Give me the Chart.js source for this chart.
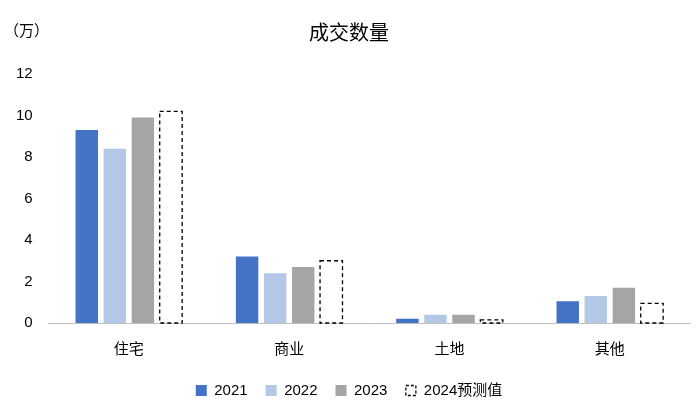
<!DOCTYPE html>
<html><head><meta charset="utf-8">
<script src="https://cdn.jsdelivr.net/npm/chart.js@4"></script>
<style>html,body{margin:0;padding:0;background:#fff}#w{position:relative;width:700px;height:418px}</style>
</head><body><div id="w"><canvas id="c" width="700" height="418"></canvas></div>
<script>
const categories = ["住宅","商业","土地","其他"];
const s2021 = [9.3, 3.2, 0.2, 1.05];
const s2022 = [8.4, 2.4, 0.4, 1.3];
const s2023 = [9.9, 2.7, 0.4, 1.7];
const s2024 = [10.2, 3.0, 0.15, 0.95];
const yTicks = [0,2,4,6,8,10,12];
const F = "'Noto Sans CJK SC', 'Liberation Sans', sans-serif";
const unitPlugin = {id:'unit', afterDraw(ch){
  const c=ch.ctx;c.save();c.font="15px "+F;c.fillStyle="#000";c.textBaseline="middle";c.fillText("（万）",4,30);
  c.strokeStyle="#000";c.lineWidth=1.3;c.setLineDash([4,3]);
  ch.getDatasetMeta(3).data.forEach(b=>{const w=b.width;c.strokeRect(b.x-w/2,b.y,w,b.base-b.y);});
  const li=ch.legend.legendHitBoxes[3];
  if(li){c.fillStyle="#fff";c.fillRect(li.left-1,li.top-1,13,14);c.setLineDash([3,2]);c.strokeRect(li.left+0.5,li.top+2.5,10,10);}
  c.restore();}};
new Chart(document.getElementById('c'), {
  type:'bar',
  data:{labels:categories, datasets:[
    {label:'2021', data:s2021, backgroundColor:'#4472C4'},
    {label:'2022', data:s2022, backgroundColor:'#B4C7E7'},
    {label:'2023', data:s2023, backgroundColor:'#A5A5A5'},
    {label:'2024预测值', data:s2024, backgroundColor:'#fff', borderWidth:0}
  ]},
  options:{responsive:false, animation:false, devicePixelRatio:1,
    categoryPercentage:0.7, barPercentage:0.8,
    layout:{padding:{left:8,right:10,top:0,bottom:10}},
    plugins:{
      title:{display:true,text:'成交数量',font:{family:F,size:20,weight:'normal'},color:'#000',padding:{top:20,bottom:30}},
      legend:{position:'bottom',labels:{font:{family:"'Liberation Sans', 'Noto Sans CJK SC', sans-serif",size:15},color:'#000',boxWidth:11,boxHeight:11,padding:18}},
      tooltip:{enabled:false}
    },
    scales:{
      x:{grid:{display:false},border:{color:'#bfbfbf'},ticks:{font:{family:F,size:15},color:'#000',padding:8}},
      y:{min:0,max:12,afterBuildTicks(a){a.ticks=yTicks.map(v=>({value:v}));},grid:{display:false},border:{display:false},ticks:{font:{family:"'Liberation Sans', sans-serif",size:15},color:'#000',padding:8}}
    }
  },
  plugins:[unitPlugin]
});
</script></body></html>
